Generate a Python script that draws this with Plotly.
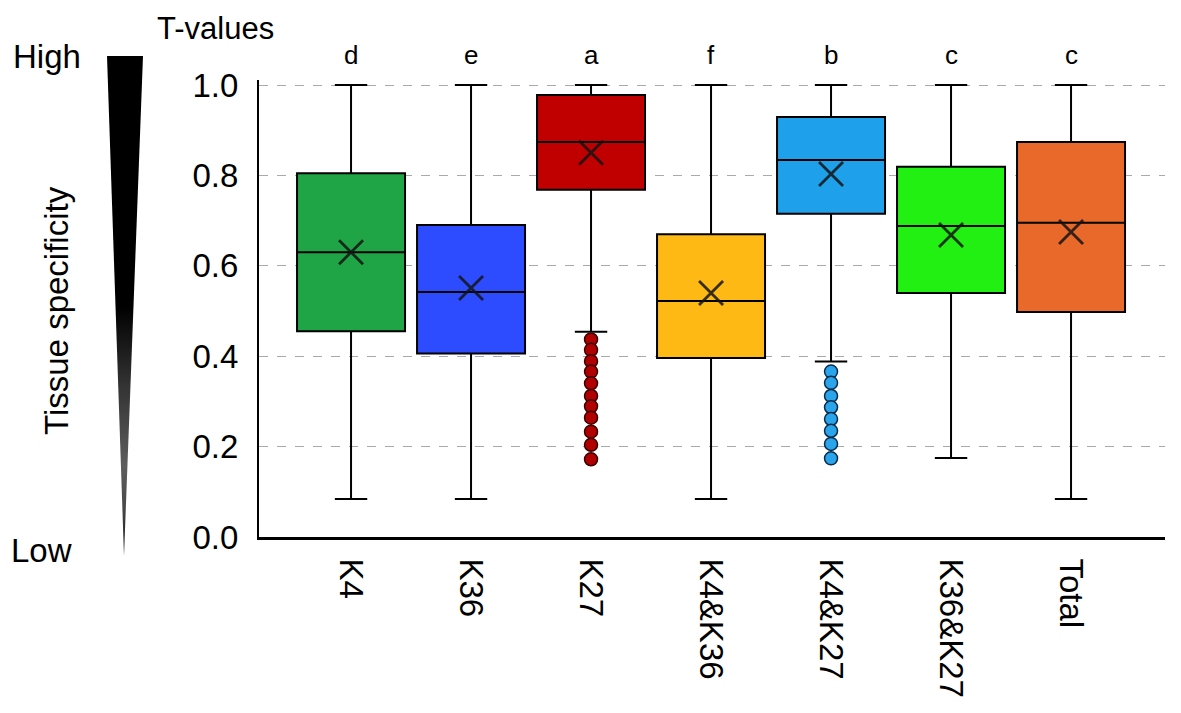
import plotly.graph_objects as go

# Groups and box statistics (T-values)
groups = ["K4", "K36", "K27", "K4&K36", "K4&K27", "K36&K27", "Total"]
q1 = [0.455, 0.406, 0.768, 0.396, 0.715, 0.540, 0.498]
median = [0.630, 0.542, 0.874, 0.522, 0.834, 0.688, 0.695]
q3 = [0.805, 0.690, 0.978, 0.670, 0.929, 0.819, 0.874]
lower = [0.084, 0.084, 0.454, 0.084, 0.388, 0.175, 0.084]
upper = [1.0, 1.0, 1.0, 1.0, 1.0, 1.0, 1.0]
means = [0.630, 0.551, 0.850, 0.540, 0.803, 0.668, 0.675]
letters = ["d", "e", "a", "f", "b", "c", "c"]
colors = ["#20a546", "#2d4cff", "#c00000", "#ffb914", "#1ea1ea", "#22ef12", "#e8692a"]

# Outliers
k27_out = [0.437, 0.414, 0.389, 0.366, 0.340, 0.312, 0.289, 0.264, 0.233, 0.204, 0.172]
k4k27_out = [0.366, 0.341, 0.312, 0.287, 0.261, 0.235, 0.206, 0.174]

W, H = 1181, 713
OFF = 8  # page body margin
font = "Liberation Sans, Arial, sans-serif"


def px_x(x):
    return (x - OFF) / W


def px_y(y):
    return 1 - (y - OFF) / H


# Wedge outline (pixel coordinates of the left decoration)
wedge_x = [107, 143, 124, 107]
wedge_y = [56, 56, 556, 56]

fig = go.Figure()

# Boxes
for i, g in enumerate(groups):
    fig.add_trace(go.Box(
        x=[g], q1=[q1[i]], median=[median[i]], q3=[q3[i]],
        lowerfence=[lower[i]], upperfence=[upper[i]],
        boxpoints=False, width=0.9, whiskerwidth=0.3,
        fillcolor=colors[i], line=dict(color="black", width=2),
        showlegend=False, hoverinfo="skip",
    ))

# Outlier dots
fig.add_trace(go.Scatter(
    x=["K27"] * len(k27_out), y=k27_out, mode="markers",
    marker=dict(symbol="circle", size=13, color="#b00000",
                line=dict(width=1.5, color="#3a0000")),
    showlegend=False, hoverinfo="skip",
))
fig.add_trace(go.Scatter(
    x=["K4&K27"] * len(k4k27_out), y=k4k27_out, mode="markers",
    marker=dict(symbol="circle", size=13, color="#2aa4ea",
                line=dict(width=1.5, color="#0a2c4a")),
    showlegend=False, hoverinfo="skip",
))

# Means
fig.add_trace(go.Scatter(
    x=groups, y=means, mode="markers",
    marker=dict(symbol="x-thin", size=24, color="#222",
                line=dict(width=2.8, color="rgba(20,20,20,0.85)")),
    showlegend=False, hoverinfo="skip",
))

# Wedge on its own axes (pixel units)
fig.add_trace(go.Scatter(
    x=[v - OFF for v in wedge_x], y=[v - OFF for v in wedge_y],
    xaxis="x2", yaxis="y2", mode="lines",
    fill="toself", line=dict(width=0, color="black"),
    fillgradient=dict(type="vertical", start=56 - OFF, stop=556 - OFF,
                      colorscale=[[0, "black"], [0.5, "black"], [0.66, "#333"],
                                  [0.82, "#5e5e5e"], [0.9, "#4a4a4a"], [1, "#111"]]),
    showlegend=False, hoverinfo="skip",
))

# Significance letters
for g, t in zip(groups, letters):
    fig.add_annotation(x=g, y=px_y(55), xref="x", yref="paper", text=t, showarrow=False,
                       xanchor="center", yanchor="middle",
                       font=dict(size=26, color="black", family=font))

# Side texts
side = [("T-values", 215, 28, 0, 31), ("High", 47, 56, 0, 33), ("Low", 41, 550, 0, 33),
        ("Tissue specificity", 56, 311, -90, 33)]
for text, x, y, ang, size in side:
    fig.add_annotation(x=px_x(x), y=px_y(y), xref="paper", yref="paper", text=text,
                       textangle=ang, showarrow=False, xanchor="center", yanchor="middle",
                       borderpad=0, font=dict(size=size, color="black", family=font))

y_top = 537 - 1.01 * 452
fig.update_layout(
    width=W, height=H,
    margin=dict(l=0, r=0, t=0, b=0),
    plot_bgcolor="white", paper_bgcolor="white",
    font=dict(family=font, color="black"),
    boxmode="overlay",
    xaxis=dict(
        domain=[px_x(259), px_x(1165)], type="category", range=[-0.767, 6.783],
        categoryorder="array", categoryarray=groups,
        tickangle=90, tickfont=dict(size=33), ticks="", ticklabelstandoff=12,
        showline=True, linecolor="black", linewidth=2.8, showgrid=False,
        zeroline=False, automargin=False,
    ),
    yaxis=dict(
        domain=[px_y(537), px_y(y_top)], range=[0, 1.01],
        tickvals=[0, 0.2, 0.4, 0.6, 0.8, 1.0], tickformat=".1f",
        tickfont=dict(size=33), ticks="", ticklabelstandoff=12,
        showline=True, linecolor="black", linewidth=2,
        showgrid=True, gridcolor="#aaaaaa", gridwidth=1, griddash="dash",
        zeroline=False, automargin=False,
    ),
    xaxis2=dict(domain=[0, 236 / W], range=[0, 236], visible=False, fixedrange=True,
                anchor="y2"),
    yaxis2=dict(domain=[0, 1], range=[H, 0], visible=False, fixedrange=True,
                anchor="x2"),
)

fig.write_html("out.html")
